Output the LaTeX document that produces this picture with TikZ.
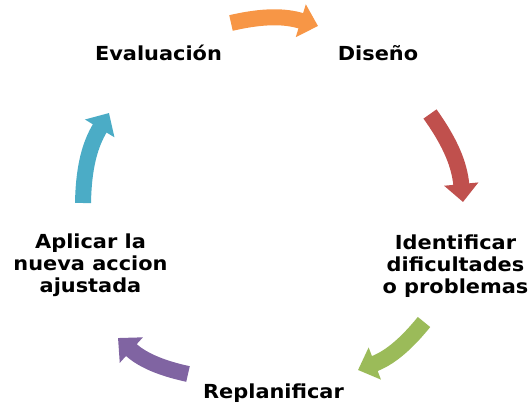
\documentclass[tikz,border=0pt]{standalone}
\usepackage{fontspec}
\setmainfont{DejaVu Sans}[FakeStretch=1.08]
\usepackage{xcolor}
\usepackage{tikz}
\usetikzlibrary{arrows.meta}
\definecolor{cyorange}{HTML}{F79646}
\definecolor{cyred}{HTML}{C0504D}
\definecolor{cygreen}{HTML}{9BBB59}
\definecolor{cypurple}{HTML}{8064A2}
\definecolor{cyteal}{HTML}{4BACC6}
\tikzstyle{stage} = [font=\bfseries\fontsize{14.5}{16.5}\selectfont, align=center, text=black, inner sep=0pt, anchor=base]
\tikzstyle{cyclearrow} = [line width=12pt, -{Triangle[width=25pt,length=13.5pt]}]

\begin{document}
\begin{tikzpicture}[x=0.75pt, y=-0.75pt]
    \useasboundingbox (0,0) rectangle (531,406);
    % Nodes
    \node[stage] (evaluacion) at (158.5,61) {Evaluación};
    \node[stage] (diseno) at (378,61) {Diseño};
    \node[stage] (identificar) at (455.5,293) {Identificar\\dificultades\\o problemas};
    \node[stage] (replanificar) at (273.5,398) {Replanificar};
    \node[stage] (aplicar) at (90.5,292) {Aplicar la\\nueva accion\\ajustada};

    % Arrow ends
    \coordinate (o1) at (231,23);  \coordinate (o2) at (318,26);
    \coordinate (r1) at (430,114); \coordinate (r2) at (463,202);
    \coordinate (g1) at (424,322); \coordinate (g2) at (358,370);
    \coordinate (p1) at (188,374); \coordinate (p2) at (118,338);
    \coordinate (t1) at (83,203);  \coordinate (t2) at (109,113);

    % Arrows
    \draw[cyclearrow, draw=cyorange] (o1) to[bend left=15] (o2);
    \draw[cyclearrow, draw=cyred] (r1) to[bend left=15] (r2);
    \draw[cyclearrow, draw=cygreen] (g1) to[bend left=15] (g2);
    \draw[cyclearrow, draw=cypurple] (p1) to[bend left=15] (p2);
    \draw[cyclearrow, draw=cyteal] (t1) to[bend left=15] (t2);

\end{tikzpicture}
\end{document}
